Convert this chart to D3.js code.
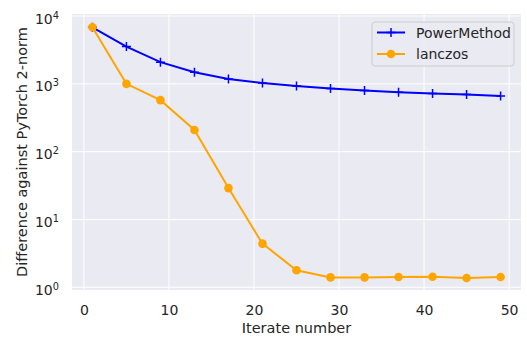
<!DOCTYPE html>
<html>
<head>
<meta charset="utf-8">
<script src="https://cdn.jsdelivr.net/npm/d3@7"></script>
<style>
  body { margin: 0; background: #fff; }
  svg { display: block; font-family: "DejaVu Sans", sans-serif; }
</style>
</head>
<body>
<svg width="527" height="340"></svg>
<script>
// iterate numbers
const iterates = [1, 5, 9, 13, 17, 21, 25, 29, 33, 37, 41, 45, 49];
const powerMethod = [6830, 3550, 2090, 1480, 1180, 1030, 930, 851, 800, 752, 720, 695, 660];
const lanczos = [6830, 1000, 575, 209, 29, 4.4, 1.78, 1.40, 1.40, 1.42, 1.43, 1.37, 1.42];
const xTicks = [0, 10, 20, 30, 40, 50];
const yTicks = [1, 10, 100, 1000, 10000];

const margin = { left: 72, right: 6, top: 14, bottom: 50 };
const width = 527, height = 340;

const svg = d3.select("svg");

const x = d3.scaleLinear()
    .domain([-1.4, 51.4])
    .range([margin.left, width - margin.right]);

const y = d3.scaleLog()
    .domain([Math.pow(10, -0.04), Math.pow(10, 4.03)])
    .range([height - margin.bottom, margin.top]);

// background
svg.append("rect")
    .attr("x", margin.left)
    .attr("y", margin.top)
    .attr("width", width - margin.right - margin.left)
    .attr("height", height - margin.bottom - margin.top)
    .attr("fill", "#eaeaf2");

// grid
const grid = svg.append("g").attr("stroke", "#fff").attr("stroke-width", 1);
grid.selectAll(".gx")
    .data(xTicks)
    .join("line")
    .attr("x1", d => x(d)).attr("x2", d => x(d))
    .attr("y1", margin.top).attr("y2", height - margin.bottom);
grid.selectAll(".gy")
    .data(yTicks)
    .join("line")
    .attr("x1", margin.left).attr("x2", width - margin.right)
    .attr("y1", d => y(d)).attr("y2", d => y(d));

// axes (no domain line, no tick marks)
const xAxis = svg.append("g")
    .attr("transform", `translate(0,${height - margin.bottom})`)
    .call(d3.axisBottom(x).tickValues(xTicks).tickSize(0).tickPadding(15));
xAxis.select(".domain").remove();
xAxis.selectAll("text")
    .attr("fill", "#262626")
    .style("font-size", "14px")
    .style("font-family", "DejaVu Sans");

const yAxis = svg.append("g")
    .attr("transform", `translate(${margin.left},0)`)
    .call(d3.axisLeft(y).tickValues(yTicks).tickSize(0).tickPadding(13).tickFormat(() => ""));
yAxis.select(".domain").remove();
yAxis.selectAll("text")
    .attr("fill", "#262626")
    .style("font-size", "14px")
    .style("font-family", "DejaVu Sans")
    .attr("dy", "0.5em")
    .each(function(d) {
        const t = d3.select(this);
        t.append("tspan").text("10");
        t.append("tspan")
            .attr("dy", "-0.5em")
            .style("font-size", "9.8px")
            .text(Math.round(Math.log10(d)));
    });

// axis labels
svg.append("text")
    .attr("x", (margin.left + width - margin.right) / 2)
    .attr("y", 333)
    .attr("text-anchor", "middle")
    .attr("fill", "#262626")
    .style("font-size", "14.5px")
    .text("Iterate number");

svg.append("text")
    .attr("transform", `translate(27,${(margin.top + height - margin.bottom) / 2}) rotate(-90)`)
    .attr("text-anchor", "middle")
    .attr("fill", "#262626")
    .style("font-size", "14.5px")
    .text("Difference against PyTorch 2-norm");

// lines
const line = d3.line()
    .x(d => x(d[0]))
    .y(d => y(d[1]));

const pmData = iterates.map((d, i) => [d, powerMethod[i]]);
const lzData = iterates.map((d, i) => [d, lanczos[i]]);

svg.append("path")
    .datum(pmData)
    .attr("fill", "none")
    .attr("stroke", "blue")
    .attr("stroke-width", 2)
    .attr("d", line);

svg.append("g")
    .attr("stroke", "blue")
    .attr("stroke-width", 1.5)
    .selectAll("path")
    .data(pmData)
    .join("path")
    .attr("d", d => `M${x(d[0]) - 4.5},${y(d[1])}h9M${x(d[0])},${y(d[1]) - 4.5}v9`);

svg.append("path")
    .datum(lzData)
    .attr("fill", "none")
    .attr("stroke", "orange")
    .attr("stroke-width", 2)
    .attr("d", line);

svg.append("g")
    .attr("fill", "orange")
    .selectAll("circle")
    .data(lzData)
    .join("circle")
    .attr("cx", d => x(d[0]))
    .attr("cy", d => y(d[1]))
    .attr("r", 4.3);

// legend
const legend = svg.append("g").attr("transform", "translate(372,22)");
legend.append("rect")
    .attr("width", 142)
    .attr("height", 44)
    .attr("rx", 3)
    .attr("fill", "#eaeaf2")
    .attr("fill-opacity", 0.8)
    .attr("stroke", "#cccccc")
    .attr("stroke-width", 1);

const items = [
    { name: "PowerMethod", color: "blue", marker: "plus" },
    { name: "lanczos", color: "orange", marker: "circle" }
];
const row = legend.selectAll(".item")
    .data(items)
    .join("g")
    .attr("transform", (d, i) => `translate(0,${10.5 + i * 21.5})`);
row.append("line")
    .attr("x1", 5).attr("x2", 33)
    .attr("stroke", d => d.color)
    .attr("stroke-width", 2);
row.filter(d => d.marker === "plus").append("path")
    .attr("d", "M14.5,0h9M19,-4.5v9")
    .attr("stroke", d => d.color)
    .attr("stroke-width", 1.5);
row.filter(d => d.marker === "circle").append("circle")
    .attr("cx", 19)
    .attr("r", 4.3)
    .attr("fill", d => d.color);
row.append("text")
    .attr("x", 44)
    .attr("dy", "0.36em")
    .attr("fill", "#262626")
    .style("font-size", "14px")
    .text(d => d.name);
</script>
</body>
</html>
